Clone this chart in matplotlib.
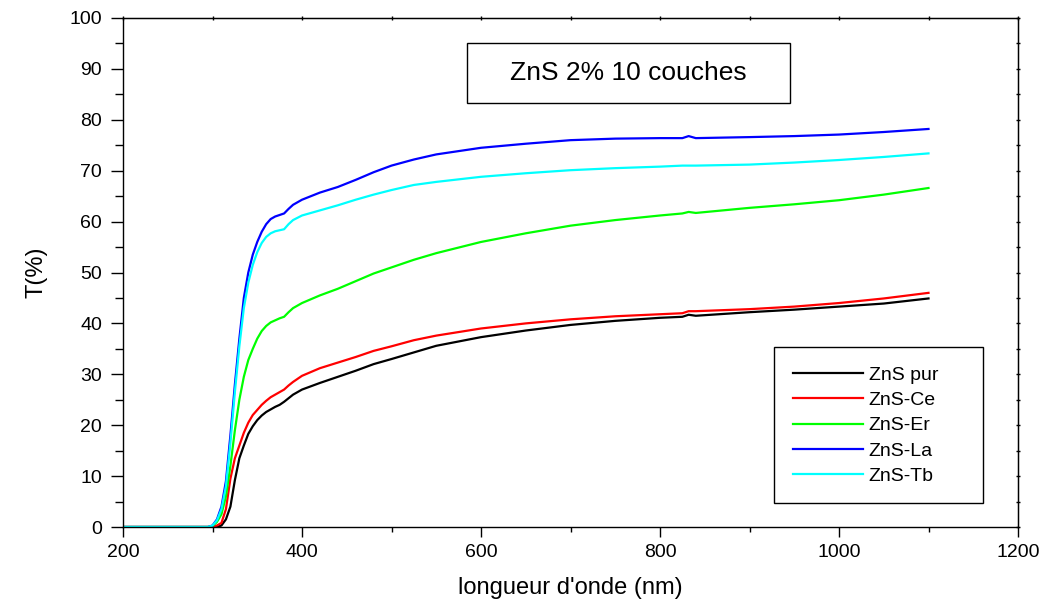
import matplotlib
matplotlib.use("Agg")
import matplotlib.pyplot as plt
from matplotlib.patches import Rectangle
from matplotlib.ticker import MultipleLocator

plt.rcParams['font.family'] = ['Liberation Sans', 'DejaVu Sans']

# ---- data ----
wavelength = [200, 295, 300, 305, 310, 315, 320, 325, 330, 335, 340, 345, 350, 355,
              360, 365, 370, 375, 380, 385, 390, 400, 420, 440, 460, 480, 500, 525,
              550, 600, 650, 700, 750, 800, 825, 832, 840, 900, 950, 1000, 1050, 1100]

t_pur = [0, 0, 0, 0, 0.3, 1.5, 4, 9.2, 13.5, 16, 18.3, 19.8, 21, 21.9,
         22.6, 23.1, 23.6, 24, 24.6, 25.3, 26, 27, 28.3, 29.5, 30.7, 32, 33, 34.3,
         35.6, 37.3, 38.6, 39.7, 40.5, 41.1, 41.3, 41.7, 41.5, 42.2, 42.7, 43.3, 43.9, 44.9]

t_ce = [0, 0, 0, 0.3, 0.8, 3.5, 9.5, 13.5, 16, 18.5, 20.5, 22, 23, 24,
        24.8, 25.5, 26, 26.5, 27, 27.8, 28.5, 29.7, 31.2, 32.3, 33.4, 34.6, 35.5, 36.7,
        37.6, 39, 40, 40.8, 41.4, 41.8, 42, 42.4, 42.4, 42.8, 43.3, 44, 44.9, 46]

t_er = [0, 0, 0.2, 1, 2.5, 6, 12, 19, 25, 29.5, 32.8, 35, 37, 38.5,
        39.5, 40.2, 40.6, 41, 41.3, 42.2, 43, 44, 45.5, 46.8, 48.3, 49.8, 51, 52.5,
        53.8, 56, 57.7, 59.2, 60.3, 61.2, 61.6, 61.9, 61.7, 62.7, 63.4, 64.2, 65.3, 66.6]

t_la = [0, 0, 0.3, 1.5, 4, 9, 18, 28, 37, 45, 50, 53.5, 56, 58,
        59.5, 60.5, 61, 61.3, 61.6, 62.5, 63.3, 64.3, 65.7, 66.8, 68.2, 69.7, 71, 72.2,
        73.2, 74.5, 75.3, 76, 76.3, 76.4, 76.4, 76.8, 76.4, 76.6, 76.8, 77.1, 77.6, 78.2]

t_tb = [0, 0, 0.3, 1.3, 3.5, 8, 16.5, 26.5, 35.5, 43, 48, 51.5, 54, 55.8,
        57, 57.7, 58.1, 58.3, 58.5, 59.5, 60.3, 61.2, 62.2, 63.2, 64.3, 65.3, 66.2, 67.2,
        67.8, 68.8, 69.5, 70.1, 70.5, 70.8, 71, 71, 71, 71.2, 71.6, 72.1, 72.7, 73.4]

series_labels = ['ZnS pur', 'ZnS-Ce', 'ZnS-Er', 'ZnS-La', 'ZnS-Tb']
series_values = [t_pur, t_ce, t_er, t_la, t_tb]
series_colors = ['#000000', '#FF0000', '#00FF00', '#0000FF', '#00FFFF']

title_text = 'ZnS 2% 10 couches'
x_label = "longueur d'onde (nm)"
y_label = 'T(%)'

# ---- figure ----
fig = plt.figure(figsize=(10.54, 6.10), dpi=100)
ax = fig.add_axes([123 / 1054, 83 / 610, 895 / 1054, 509 / 610])

lines = []
for lab, vals, col in zip(series_labels, series_values, series_colors):
    ln, = ax.plot(wavelength, vals, color=col, lw=1.6, label=lab, solid_joinstyle='round')
    lines.append(ln)

ax.set_xlim(200, 1200)
ax.set_ylim(0, 100)
ax.xaxis.set_major_locator(MultipleLocator(200))
ax.xaxis.set_minor_locator(MultipleLocator(100))
ax.yaxis.set_major_locator(MultipleLocator(10))
ax.yaxis.set_minor_locator(MultipleLocator(5))

for s in ax.spines.values():
    s.set_linewidth(1.0)

ax.tick_params(axis='y', which='major', direction='out', length=9, width=1.0,
               labelsize=14, pad=6)
ax.tick_params(axis='y', which='minor', direction='out', length=5.5, width=1.0)
ax.tick_params(axis='x', which='major', direction='out', length=7, width=1.0,
               labelsize=14, pad=5)
ax.tick_params(axis='x', which='minor', direction='out', length=3.5, width=1.0)

# small ticks on the top and right frame
secx = ax.secondary_xaxis('top')
secx.xaxis.set_major_locator(MultipleLocator(100))
secx.tick_params(direction='inout', length=3, width=1.0, labeltop=False)
secy = ax.secondary_yaxis('right')
secy.yaxis.set_major_locator(MultipleLocator(5))
secy.tick_params(direction='inout', length=3, width=1.0, labelright=False)

ax.set_xlabel(x_label, fontsize=17, labelpad=12)
ax.set_ylabel(y_label, fontsize=17, labelpad=16)

# title box
tx0, ty0 = (467 - 123) / 895, (527 - 103) / 509
tw, th = (790 - 467) / 895, (103 - 43) / 509
ax.add_patch(Rectangle((tx0, ty0), tw, th, transform=ax.transAxes, fill=False,
                       edgecolor='black', lw=1.0, zorder=5))
ax.text(tx0 + tw / 2, ty0 + th / 2, title_text, transform=ax.transAxes,
        ha='center', va='center', fontsize=19, zorder=6)

# legend box
lx0, ly0 = (774 - 123) / 895, (527 - 503) / 509
lw_, lh_ = (983 - 774) / 895, (503 - 347) / 509
ax.add_patch(Rectangle((lx0, ly0), lw_, lh_, transform=ax.transAxes, fill=False,
                       edgecolor='black', lw=1.0, zorder=5))
leg = ax.legend(handles=lines, loc='upper left',
                bbox_to_anchor=((793 - 123) / 895, (527 - 366) / 509),
                frameon=False, fontsize=14, handlelength=3.6, handletextpad=0.3,
                labelspacing=0.4, borderpad=0.0, borderaxespad=0.0)

fig.savefig('out.png', dpi=100)
